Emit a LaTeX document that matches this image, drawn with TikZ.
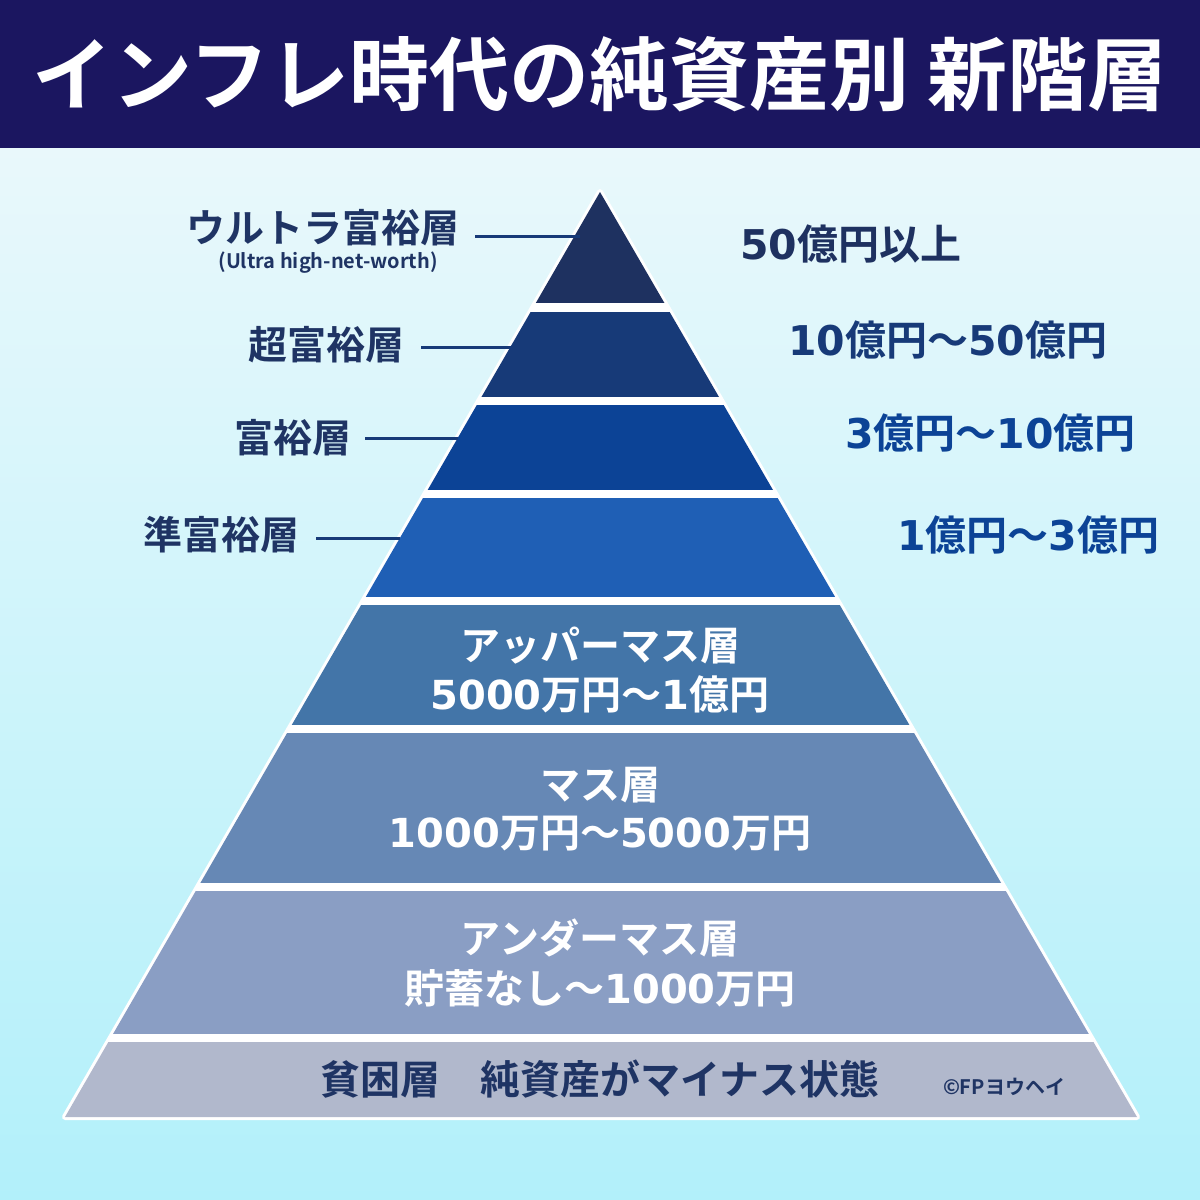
\documentclass[tikz,border=0pt]{standalone}
\usepackage{fontspec}
\setmainfont{Noto Sans CJK JP}[BoldFont={* Bold}]
\newfontfamily\numf{DejaVu Sans}[BoldFont={* Bold}]
\newcommand{\nm}[1]{{\numf\bfseries #1}}
\definecolor{hdr}{HTML}{1B1660}
\definecolor{bgtop}{HTML}{E9F8FB}
\definecolor{bgbot}{HTML}{B2F0FA}
\definecolor{cA}{HTML}{1E3160}
\definecolor{cB}{HTML}{173A78}
\definecolor{cC}{HTML}{0C4396}
\definecolor{cD}{HTML}{1F5FB5}
\definecolor{cE}{HTML}{4375A8}
\definecolor{cF}{HTML}{6688B5}
\definecolor{cG}{HTML}{8A9EC4}
\definecolor{cH}{HTML}{B1B8CC}
\definecolor{lab}{HTML}{1F3464}
\tikzset{
 leftlab/.style={anchor=east,font=\bfseries\fontsize{19.5}{22}\selectfont,text=lab,inner sep=0},
 rightlab/.style={anchor=west,font=\bfseries\fontsize{20.5}{22}\selectfont,inner sep=0},
 bandtxt/.style={font=\bfseries\fontsize{20}{22}\selectfont,text=white,inner sep=0},
 leader/.style={draw=cB,line width=1.5pt}
}
\begin{document}
\begin{tikzpicture}[x=0.5pt,y=-0.5pt]
\useasboundingbox (0,0) rectangle (1200,1200);
\shade[top color=bgtop,bottom color=bgbot] (0,148) rectangle (1200,1200);
\fill[hdr] (0,0) rectangle (1200,148);
\node[font=\bfseries\fontsize{40}{44}\selectfont,text=white] (title) at (600,74) {インフレ時代の純資産別\ 新階層};
% pyramid
\coordinate (apex) at (600,192);
\coordinate (bl) at (65,1117);
\coordinate (br) at (1137,1117);
\filldraw[fill=white,draw=white,line width=3pt,line join=round] (apex) -- (br) -- (bl) -- cycle;
\begin{scope}
\clip (apex) -- (br) -- (bl) -- cycle;
\fill[cA] (0,180) rectangle (1200,303);
\fill[cB] (0,312) rectangle (1200,397);
\fill[cC] (0,405) rectangle (1200,490);
\fill[cD] (0,498) rectangle (1200,597);
\fill[cE] (0,605) rectangle (1200,725);
\fill[cF] (0,733) rectangle (1200,883);
\fill[cG] (0,891) rectangle (1200,1034);
\fill[cH] (0,1042) rectangle (1200,1130);
\end{scope}
% left labels
\node[leftlab] (l1) at (460,228) {ウルトラ富裕層};
\node[font=\bfseries\fontsize{10}{11}\selectfont,text=lab,inner sep=0] (l1s) at (328,263) {(Ultra high-net-worth)};
\coordinate (p1) at (580,236);
\draw[leader] ([xshift=7.5]l1.east |- p1) -- (p1);
\node[leftlab] (l2) at (405,345) {超富裕層};
\coordinate (p2) at (512,347);
\draw[leader] ([xshift=8]l2.east |- p2) -- (p2);
\node[leftlab] (l3) at (352,438) {富裕層};
\coordinate (p3) at (458,438);
\draw[leader] ([xshift=6.5]l3.east |- p3) -- (p3);
\node[leftlab] (l4) at (300,535) {準富裕層};
\coordinate (p4) at (400,538);
\draw[leader] ([xshift=8]l4.east |- p4) -- (p4);
% right labels
\node[rightlab,text=cA] (r1) at (740,244) {\nm{50}億円以上};
\node[rightlab,text=cB] (r2) at (788,340) {\nm{10}億円～\nm{50}億円};
\node[rightlab,text=cC] (r3) at (845,433) {\nm{3}億円～\nm{10}億円};
\node[rightlab,text=cC] (r4) at (897,535) {\nm{1}億円～\nm{3}億円};
% band texts
\node[bandtxt] (b5a) at (600,646) {アッパーマス層};
\node[bandtxt] (b5b) at (600,694) {\nm{5000}万円～\nm{1}億円};
\node[bandtxt] (b6a) at (600,785) {マス層};
\node[bandtxt] (b6b) at (600,834) {\nm{1000}万円～\nm{5000}万円};
\node[bandtxt] (b7a) at (600,938) {アンダーマス層};
\node[bandtxt] (b7b) at (600,988) {貯蓄なし～\nm{1000}万円};
\node[font=\bfseries\fontsize{20}{22}\selectfont,text=lab,inner sep=0] (b8) at (600,1079) {貧困層\quad 純資産がマイナス状態};
\node[font=\bfseries\fontsize{10}{12}\selectfont,text=lab,inner sep=0] (cr) at (1004,1087) {©FPヨウヘイ};
\end{tikzpicture}
\end{document}
